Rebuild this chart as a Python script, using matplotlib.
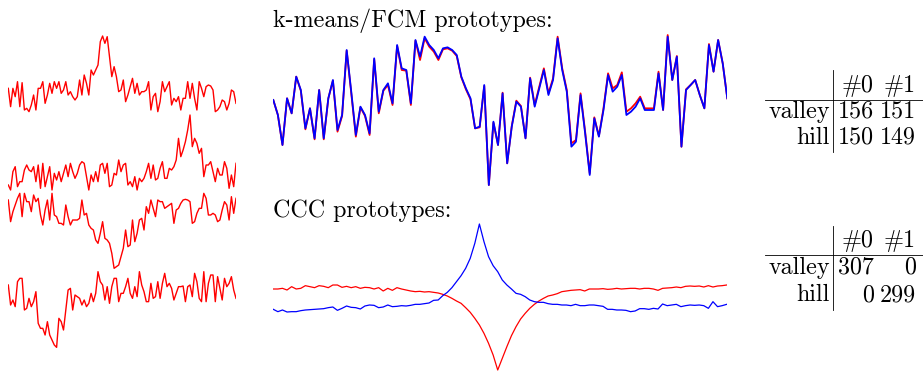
import numpy as np
import matplotlib.pyplot as plt
from matplotlib.lines import Line2D

# sample curves (screen-depth units: larger = lower)
sample_a = [175, 230, 175, 200, 155, 230, 158, 240, 235, 245,
            225, 195, 240, 175, 175, 155, 220, 195, 160, 190,
            155, 175, 155, 190, 180, 155, 195, 185, 200, 210,
            200, 150, 195, 135, 160, 195, 120, 135, 120, 105,
            35, 18, 40, 20, 80, 140, 110, 140, 185, 180,
            150, 215, 195, 170, 145, 190, 160, 195, 185, 185,
            180, 155, 240, 200, 190, 245, 215, 155, 185, 170,
            155, 225, 205, 215, 200, 240, 205, 205, 155, 205,
            160, 205, 240, 155, 175, 200, 170, 165, 168, 180,
            245, 240, 230, 210, 215, 240, 220, 180, 185, 220]
sample_b = [225, 240, 185, 170, 230, 215, 215, 180, 165, 180,
            185, 170, 215, 165, 235, 160, 230, 200, 170, 240,
            190, 210, 185, 215, 190, 165, 200, 160, 185, 205,
            190, 165, 155, 160, 200, 240, 195, 215, 185, 215,
            165, 160, 190, 160, 230, 225, 190, 195, 150, 185,
            165, 160, 225, 215, 230, 200, 240, 205, 215, 205,
            185, 160, 205, 165, 210, 205, 175, 155, 205, 205,
            175, 180, 170, 150, 85, 140, 120, 95, 60, 15,
            110, 85, 100, 130, 115, 200, 165, 165, 155, 185,
            215, 175, 195, 195, 155, 175, 235, 195, 230, 160]
sample_c = [30, 95, 65, 45, 25, 10, 80, 10, 35, 35,
            65, 15, 35, 25, 75, 105, 60, 30, 90, 10,
            75, 80, 100, 100, 105, 45, 80, 105, 90, 90,
            90, 85, 30, 75, 70, 105, 115, 120, 150, 160,
            130, 95, 145, 150, 160, 190, 235, 230, 225, 200,
            175, 120, 170, 165, 90, 155, 130, 90, 85, 120,
            50, 70, 30, 55, 80, 30, 35, 35, 55, 50,
            45, 40, 100, 60, 55, 40, 30, 28, 30, 35,
            100, 95, 70, 55, 55, 10, 25, 75, 75, 70,
            75, 95, 90, 60, 35, 45, 90, 20, 70, 25]
sample_d = [45, 105, 90, 110, 35, 25, 25, 120, 115, 85,
            110, 95, 65, 160, 175, 175, 195, 155, 195, 210,
            225, 232, 145, 155, 180, 120, 60, 55, 120, 75,
            80, 85, 105, 90, 110, 100, 70, 95, 70, 5,
            35, 45, 90, 50, 100, 50, 25, 25, 95, 70,
            70, 50, 25, 70, 85, 50, 80, 5, 45, 65,
            95, 95, 40, 85, 80, 35, 85, 40, 10, 50,
            40, 55, 90, 70, 50, 50, 48, 95, 50, 45,
            80, 10, 35, 85, 95, 5, 95, 40, 15, 15,
            95, 20, 55, 90, 25, 50, 40, 20, 60, 85]

# k-means (red) / FCM (blue) prototypes
kmeans_proto = [210, 255, 345, 205, 250, 140, 182, 298, 235, 328,
                180, 328, 205, 152, 305, 258, 62, 190, 320, 232,
                258, 315, 88, 250, 182, 165, 225, 48, 120, 122,
                225, 32, 90, 25, 50, 65, 90, 58, 55, 62,
                78, 142, 178, 208, 295, 292, 168, 465, 278, 345,
                188, 400, 288, 212, 228, 325, 143, 225, 170, 115,
                190, 145, 20, 115, 180, 340, 330, 190, 305, 430,
                262, 318, 235, 130, 175, 165, 127, 245, 235, 220,
                200, 235, 235, 235, 125, 240, 15, 150, 78, 350,
                178, 165, 150, 195, 235, 42, 125, 30, 100, 205]
fcm_proto = [210, 255, 345, 205, 250, 140, 180, 295, 235, 325,
             180, 325, 205, 150, 300, 255, 60, 185, 315, 230,
             255, 310, 85, 245, 180, 160, 220, 45, 115, 120,
             220, 30, 80, 20, 45, 60, 85, 55, 52, 60,
             75, 140, 175, 205, 295, 290, 165, 465, 275, 345,
             190, 400, 290, 215, 230, 325, 145, 230, 175, 120,
             195, 150, 25, 120, 185, 350, 335, 195, 310, 435,
             265, 320, 240, 135, 185, 170, 135, 255, 245, 230,
             205, 240, 240, 240, 130, 240, 20, 150, 80, 350,
             180, 165, 150, 195, 235, 45, 125, 30, 100, 205]

# CCC prototypes
ccc_red = [222, 222, 220, 225, 215, 222, 220, 212, 215, 218,
           212, 214, 218, 210, 210, 217, 214, 218, 215, 220,
           217, 218, 222, 218, 228, 220, 226, 218, 222, 225,
           228, 230, 229, 231, 230, 232, 234, 238, 243, 250,
           258, 265, 278, 292, 310, 330, 355, 385, 420, 465,
           430, 395, 362, 335, 312, 295, 280, 268, 258, 250,
           243, 240, 236, 230, 228, 226, 225, 224, 228, 222,
           222, 222, 221, 223, 222, 220, 222, 221, 220, 220,
           222, 220, 220, 222, 226, 220, 219, 218, 216, 218,
           214, 213, 214, 213, 216, 212, 216, 213, 212, 210]
ccc_blue = [283, 290, 285, 291, 290, 290, 287, 285, 284, 283,
            282, 281, 278, 276, 286, 280, 273, 277, 278, 282,
            273, 270, 271, 278, 276, 270, 275, 274, 272, 273,
            271, 268, 268, 266, 264, 256, 255, 242, 232, 218,
            200, 182, 160, 130, 85, 27, 80, 125, 152, 170,
            195, 210, 222, 235, 238, 245, 255, 260, 262, 262,
            266, 268, 268, 270, 270, 272, 268, 272, 272, 270,
            270, 272, 274, 283, 283, 285, 285, 286, 290, 288,
            281, 281, 283, 280, 282, 267, 272, 270, 268, 275,
            272, 270, 271, 270, 272, 280, 260, 275, 272, 268]

col_labels = ['#0', '#1']
row_labels = ['valley', 'hill']
kmeans_counts = [[156, 151], [150, 149]]
ccc_counts = [[307, 0], [0, 299]]

W, H = 923, 373
fig = plt.figure(figsize=(W / 100, H / 100), dpi=100)
FONT = dict(fontfamily='cmr10', fontsize=17.3)


def box(x0, y0, x1, y1):
    return [x0 / W, 1 - y1 / H, (x1 - x0) / W, (y1 - y0) / H]


def strip(rect, depth):
    ax = fig.add_axes(rect)
    ax.set_axis_off()
    ax.set_ylim(depth, 0)
    return ax


# left column: four raw samples
for vals, top in zip([sample_a, sample_b, sample_c, sample_d], [30, 110, 190, 270]):
    ax = strip(box(8.3, top, 236, top + 90), 270)
    ax.plot(np.arange(len(vals)), vals, color='red', lw=1.0)
    ax.set_xlim(0, len(vals) - 1)

# k-means / FCM prototypes
ax = strip(box(273.3, 30, 727.3, 195), 495)
ax.plot(np.arange(100), kmeans_proto, color='red', lw=1.3)
ax.plot(np.arange(100), fcm_proto, color='blue', lw=1.3)
ax.set_xlim(0, 99)
fig.text(273 / W, 1 - 27 / H, 'k-means/FCM prototypes:', va='baseline', **FONT)

# CCC prototypes
ax = strip(box(273.3, 215, 726.7, 375), 480)
ax.plot(np.arange(100), ccc_red, color='red', lw=0.9)
ax.plot(np.arange(100), ccc_blue, color='blue', lw=0.9)
ax.set_xlim(0, 99)
fig.text(273 / W, 1 - 217 / H, 'CCC prototypes:', va='baseline', **FONT)


def table(counts, y_top, y_rule, y_bottom, y_head, y_rows):
    fig.add_artist(Line2D([833 / W] * 2, [1 - y_top / H, 1 - y_bottom / H], color='black', lw=0.6))
    fig.add_artist(Line2D([765 / W, 923 / W], [1 - y_rule / H] * 2, color='black', lw=0.6))
    for lab, x in zip(col_labels, [874, 916]):
        fig.text(x / W, 1 - y_head / H, lab, ha='right', va='baseline', **FONT)
    for lab, row, y in zip(row_labels, counts, y_rows):
        fig.text(830 / W, 1 - y / H, lab, ha='right', va='baseline', **FONT)
        for v, x in zip(row, [874, 916]):
            fig.text(x / W, 1 - y / H, str(v), ha='right', va='baseline', **FONT)


table(kmeans_counts, 70, 100, 152, 92, [118, 144])
table(ccc_counts, 226, 255, 310, 247, [274, 301])

fig.savefig('out.png', dpi=100)
